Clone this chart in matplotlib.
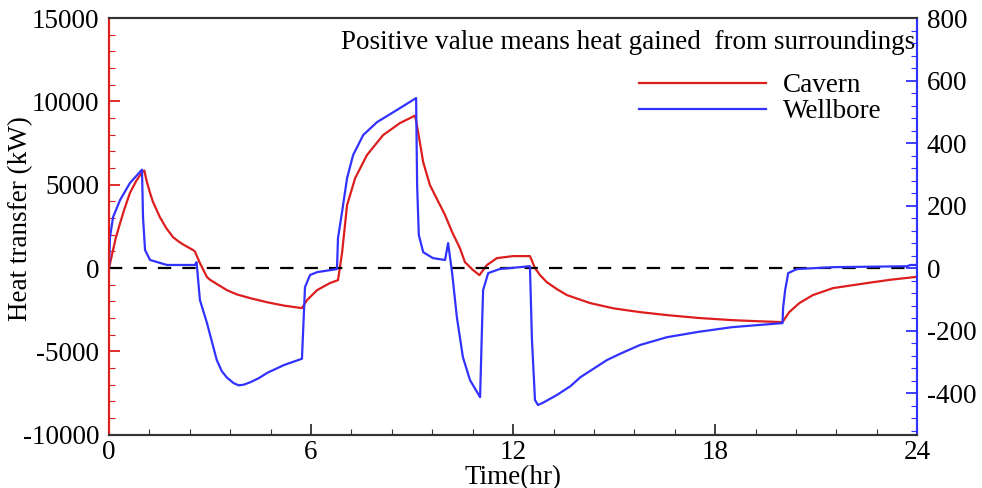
import numpy as np
import matplotlib
matplotlib.use("Agg")
import matplotlib.pyplot as plt
from matplotlib.ticker import MultipleLocator

plt.rcParams['font.family'] = ['Liberation Serif', 'DejaVu Serif']
plt.rcParams['axes.unicode_minus'] = False

# Cavern heat transfer (kW), left axis
cavern_t = [0, 0.12, 0.2, 0.33, 0.45, 0.62, 0.8, 0.98, 1.05,
            1.12, 1.22, 1.3, 1.51, 1.7, 1.9, 2.05, 2.2, 2.35, 2.5, 2.55,
            2.7, 2.91, 3.0, 3.2, 3.5, 3.8, 4.19, 4.7, 5.2, 5.73,
            5.88, 6.18, 6.56, 6.8,
            6.92, 7.07, 7.31, 7.66, 8.14, 8.64, 9.09,
            9.18, 9.33, 9.53, 9.83, 9.98, 10.19, 10.42, 10.57, 10.8, 11.0,
            11.22, 11.52, 12.0, 12.5, 12.65, 12.8, 13.0, 13.3, 13.6, 14.29, 15.0, 15.77,
            16.57, 17.5, 18.5, 19.3, 20.0,
            20.08, 20.2, 20.5, 20.9, 21.5, 22.5, 23.2, 24.0]
cavern_q = [0, 1080, 1800, 2700, 3500, 4500, 5200, 5750, 5850,
            5200, 4500, 4000, 3060, 2400, 1860, 1620, 1420, 1250, 1080, 1000,
            300, -540, -700, -950, -1320, -1580, -1800, -2050, -2250, -2400,
            -1920, -1320, -900, -720,
            900, 3780, 5400, 6780, 7980, 8700, 9150,
            8160, 6360, 4980, 3780, 3180, 2160, 1200, 360, -100, -420,
            180, 600, 720, 720, 0, -420, -840, -1260, -1620, -2100, -2420, -2640,
            -2820, -2990, -3120, -3190, -3240,
            -3000, -2640, -2100, -1620, -1200, -900, -700, -520]

# Wellbore heat transfer, right axis
well_t = [0, 0.03, 0.12, 0.33, 0.62, 0.98,
          1.01, 1.07, 1.22, 1.72, 2.55, 2.6, 2.7, 2.91, 3.2, 3.35, 3.5, 3.7, 3.85,
          4.0, 4.2, 4.45, 4.7, 5.2, 5.73,
          5.82, 5.97, 6.18, 6.77,
          6.8, 6.92, 7.07, 7.25, 7.55, 7.96, 8.55, 9.12,
          9.15, 9.2, 9.33, 9.62, 9.98, 10.07, 10.19, 10.33, 10.51, 10.72, 11.02,
          11.08, 11.11, 11.26, 11.6, 12.5,
          12.56, 12.65, 12.74, 12.9, 13.3, 13.7, 14.0, 14.79, 15.2, 15.77,
          16.57, 17.5, 18.5, 19.3, 20.0,
          20.02, 20.08, 20.17, 20.43, 21.5, 23.7, 23.8, 24.0]
well_q = [0, 99, 163, 218, 272, 315,
          163, 58, 26, 10, 10, 19, -102, -176, -294, -330, -350, -368, -375,
          -373, -365, -352, -335, -310, -290,
          -61, -22, -13, -3,
          96, 179, 288, 362, 426, 467, 506, 544,
          266, 106, 51, 32, 26, 80, -16, -157, -285, -358, -413,
          -176, -70, -16, -3, 6,
          -230, -422, -438, -430, -406, -378, -349, -294, -273, -246,
          -221, -204, -189, -182, -176,
          -125, -70, -16, -3, 3, 6, 10, 10]

red = '#dc1e1e'
blue = '#3232ff'

fig = plt.figure(figsize=(9.82, 4.88), dpi=100)
ax = fig.add_axes([0.111, 0.109, 0.823, 0.854])
ax2 = ax.twinx()

l1, = ax.plot(cavern_t, cavern_q, color=red, lw=1.6, label='Cavern')
l2, = ax2.plot(well_t, well_q, color=blue, lw=1.6, label='Wellbore')
ax.axhline(0, color='black', lw=1.6, ls=(0, (6, 5)))

ax.set_xlim(0, 24)
ax.set_ylim(-10000, 15000)
ax2.set_ylim(-533.33, 800)

ax.xaxis.set_major_locator(MultipleLocator(6))
ax.xaxis.set_minor_locator(MultipleLocator(1.2))
ax.yaxis.set_major_locator(MultipleLocator(5000))
ax.yaxis.set_minor_locator(MultipleLocator(1000))
ax2.yaxis.set_major_locator(MultipleLocator(200))
ax2.yaxis.set_minor_locator(MultipleLocator(40))

for a in (ax, ax2):
    a.tick_params(which='both', direction='in', labelsize=19.5, pad=7)
    a.tick_params(which='major', length=8, width=1.3)
    a.tick_params(which='minor', length=4, width=0.8)
    for s in a.spines.values():
        s.set_linewidth(1.5)
ax.tick_params(axis='x', pad=3.5)

ax.spines['left'].set_color(red)
ax2.spines['left'].set_color(red)
ax.spines['right'].set_color(blue)
ax2.spines['right'].set_color(blue)
for side in ('top', 'bottom'):
    ax.spines[side].set_color('#333333')
    ax2.spines[side].set_color('#333333')
ax.tick_params(axis='y', which='both', color=red, right=False)
ax2.tick_params(axis='y', which='both', color=blue)
ax.tick_params(axis='x', which='both', color='#333333', top=False)

ax.set_xlabel('Time(hr)', fontsize=19.5)
ax.xaxis.set_label_coords(0.5, -0.072)
ax.set_ylabel('Heat transfer (kW)', fontsize=19.5)
ax.yaxis.set_label_coords(-0.094, 0.52)

ax.text(0.9975, 0.942, 'Positive value means heat gained  from surroundings',
        transform=ax.transAxes, ha='right', va='center', fontsize=19.5)

ax.legend(handles=[l1, l2], loc='upper left', bbox_to_anchor=(0.656, 0.868),
          frameon=False, fontsize=19.5, handlelength=4.7, handletextpad=0.6,
          labelspacing=0.05, borderpad=0, borderaxespad=0)

fig.savefig('out.png', dpi=100)
